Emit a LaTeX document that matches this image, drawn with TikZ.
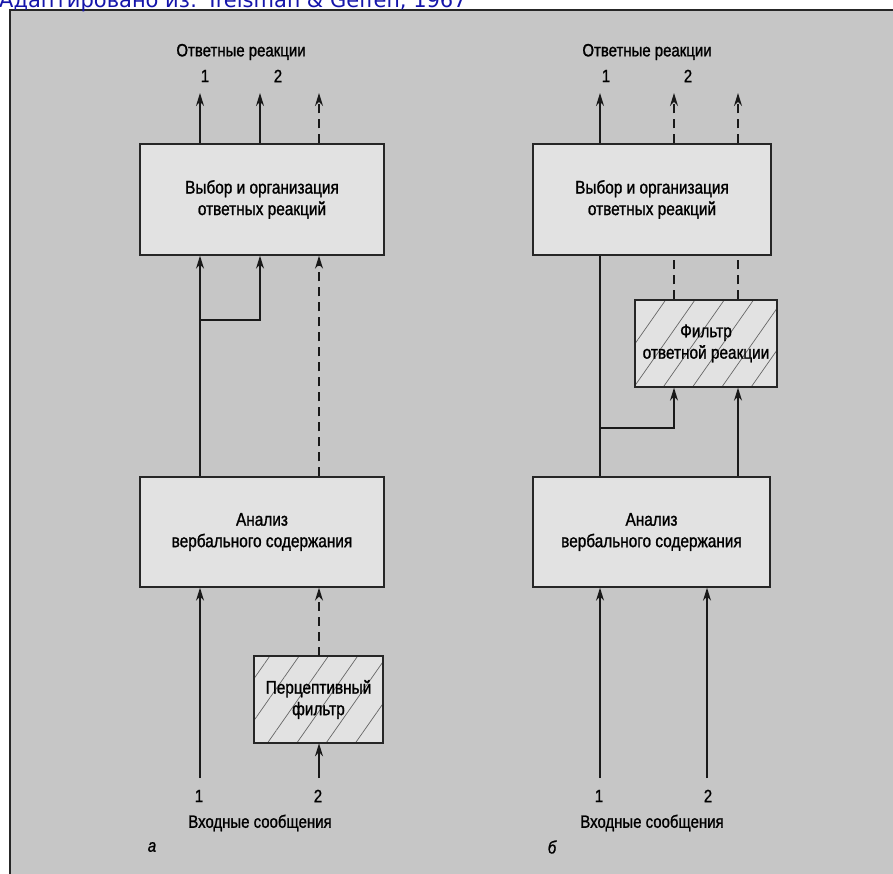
\documentclass[tikz,border=0pt]{standalone}
\usepackage{fontspec}
\setmainfont{Liberation Sans}[FakeStretch=0.84,FakeBold=1.2]
\newfontfamily\capfont{DejaVu Sans}
\usetikzlibrary{arrows.meta,patterns.meta}
\definecolor{panel}{RGB}{198,198,198}
\definecolor{boxfill}{RGB}{226,226,226}
\definecolor{capblue}{RGB}{20,20,170}
\tikzset{
  blk/.style={draw=black!85, line width=1.4pt, fill=boxfill, align=center, font=\fontsize{18.3}{21.5}\selectfont, inner sep=0pt},
  hatchbox/.style={blk, preaction={fill=boxfill}, pattern={Lines[angle=55,distance=24pt,line width=0.7pt]}, pattern color=black!60},
  ln/.style={line width=1.5pt, black!90},
  arr/.style={ln, -{Stealth[length=13pt,width=8pt]}},
  dsh/.style={dash pattern=on 9pt off 6pt},
  lbl/.style={font=\fontsize{17.8}{20}\selectfont, inner sep=0pt},
}
\begin{document}
\begin{tikzpicture}[x=1pt,y=-1pt]
\useasboundingbox (0,0) rectangle (893,874);
% panel
\fill[panel] (10,10) rectangle (900,880);
\draw[line width=1.7pt, black!85] (10,880) -- (10,10) -- (900,10);
\node[anchor=base west, text=capblue, font=\capfont\fontsize{21}{23}\selectfont, inner sep=0pt] (cap) at (-1,8) {Адаптировано из: Treisman \& Geffen, 1967};

% ===== panel a =====
\node[blk, minimum width=244pt, minimum height=111pt] (selA) at (262,199.5) {Выбор и организация\\ответных реакций};
\node[blk, minimum width=244pt, minimum height=110pt] (anA) at (262,532) {Анализ\\вербального содержания};
\node[hatchbox, minimum width=129pt, minimum height=87pt] (pfA) at (318.5,699.5) {Перцептивный\\фильтр};

\node[lbl] (orA) at (241,52) {Ответные реакции};
\node[lbl] (or1A) at (205,76) {1};
\node[lbl] (or2A) at (278,76) {2};
\coordinate (tA1) at (200,93);
\coordinate (tA2) at (260,93);
\coordinate (tA3) at (319,93);
\draw[arr] (selA.north -| tA1) -- (tA1);
\draw[arr] (selA.north -| tA2) -- (tA2);
\draw[arr,dsh] (selA.north -| tA3) -- (tA3);

\coordinate (jA1) at (200,320);
\coordinate (jA2) at (260,320);
\draw[arr] (anA.north -| jA1) -- (selA.south -| jA1);
\draw[arr] (jA1) -- (jA2) -- (selA.south -| jA2);
\draw[arr,dsh] (anA.north -| tA3) -- (selA.south -| tA3);

\coordinate (iA1) at (200,778);
\coordinate (iA2) at (319,778);
\draw[arr] (iA1) -- (anA.south -| iA1);
\draw[arr] (iA2) -- (pfA.south -| iA2);
\draw[arr,dsh] (pfA.north -| iA2) -- (anA.south -| iA2);
\node[lbl] (in1A) at (199,796) {1};
\node[lbl] (in2A) at (318,796) {2};
\node[lbl] (inA) at (260,823) {Входные сообщения};
\node[lbl, font=\fontsize{17.8}{20}\selectfont\itshape] (la) at (152,847) {а};

% ===== panel b =====
\node[blk, minimum width=238pt, minimum height=111pt] (selB) at (652,199.5) {Выбор и организация\\ответных реакций};
\node[blk, minimum width=237pt, minimum height=110pt] (anB) at (651.5,532) {Анализ\\вербального содержания};
\node[hatchbox, minimum width=142pt, minimum height=87pt] (rfB) at (706,343.5) {Фильтр\\ответной реакции};

\node[lbl] (orB) at (647,52) {Ответные реакции};
\node[lbl] (or1B) at (606,76) {1};
\node[lbl] (or2B) at (688,76) {2};
\coordinate (tB1) at (600,93);
\coordinate (tB2) at (674,93);
\coordinate (tB3) at (738,93);
\draw[arr] (selB.north -| tB1) -- (tB1);
\draw[arr,dsh] (selB.north -| tB2) -- (tB2);
\draw[arr,dsh] (selB.north -| tB3) -- (tB3);

\draw[ln] (anB.north -| tB1) -- (selB.south -| tB1);
\draw[ln,dsh] (rfB.north -| tB2) -- (selB.south -| tB2);
\draw[ln,dsh] (rfB.north -| tB3) -- (selB.south -| tB3);
\coordinate (jB1) at (600,428);
\coordinate (jB2) at (674,428);
\draw[arr] (jB1) -- (jB2) -- (rfB.south -| jB2);
\draw[arr] (anB.north -| tB3) -- (rfB.south -| tB3);

\coordinate (iB1) at (600,778);
\coordinate (iB2) at (707,778);
\draw[arr] (iB1) -- (anB.south -| iB1);
\draw[arr] (iB2) -- (anB.south -| iB2);
\node[lbl] (in1B) at (599,796) {1};
\node[lbl] (in2B) at (708,796) {2};
\node[lbl] (inB) at (652,823) {Входные сообщения};
\node[lbl, font=\fontsize{17.8}{20}\selectfont\itshape] (lb) at (552,847) {б};
\end{tikzpicture}
\end{document}
